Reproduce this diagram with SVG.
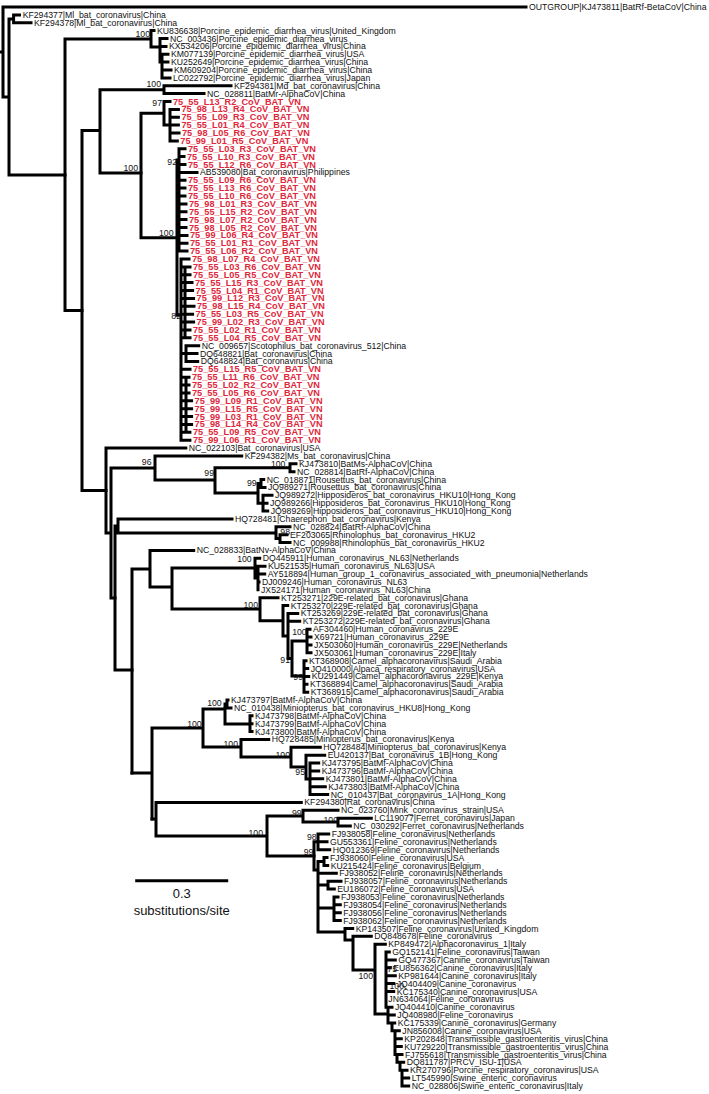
<svg xmlns="http://www.w3.org/2000/svg" width="709" height="1094" viewBox="0 0 709 1094">
<style>
text{font-family:"Liberation Sans",Arial,sans-serif;}
.t{font-size:8.7px;fill:#111;}
.v{font-size:9.2px;font-weight:bold;fill:#e0283c;}
.b{font-size:8.7px;fill:#111;text-anchor:end;}
.s{font-size:13px;fill:#111;text-anchor:middle;}
.e{fill:none;stroke:#000;stroke-width:3;stroke-linecap:square;}
</style>
<rect width="709" height="1094" fill="#fff"/>
<g id="connectors">
<path class="e" d="M0 52H3M3 7V97M3 97H9M3 7H526M9 18.9V175M9 18.9H13.6M13.6 14.9V22.8M13.6 14.9H19.5M13.6 22.8H31M9 175H65"/>
<path class="e" d="M65 39V310.5M65 39H151M65 310.5H82M151 30.6V47M151 30.6H154M151 47H160M160 38.5V62.1M162 54.3V77.9M160 38.5H167M160 46.4H166M162 54.3H168M162 62.1H168M162 70H171M162 77.9H170"/>
<path class="e" d="M82 130.5V490.5M82 130.5H100M82 490.5H106M100 89.7V173M100 89.7H164M164 85.8V93.6M164 85.8H231M164 93.6H204M100 173H141"/>
<path class="e" d="M141 113.3V237.7M141 113.3H164M164 101.5V125M164 101.5H170M164 125H170M170 109.4V140.9M170 109.4H178.4M170 117.3H178.4M170 125.1H178.4M170 133H179M170 140.9H177.3M141 237.7H177"/>
<path class="e" d="M177 160V315M177 160H179M179 148.8V251.1M179 148.8H185M179 156.6H184M179 164.5H185M179 172.4H197M179 180.3H185M179 188.1H185M179 196H185M179 203.9H186M179 211.8H186M179 219.6H186M179 227.5H186M179 235.4H187M179 243.3H187M179 251.1H187"/>
<path class="e" d="M177 315H181M181 259V440.2M181 259H189M181 266.9H190M181 274.8H190M181 282.6H192M181 290.5H192.6M181 298.4H193.6M181 306.3H194M181 314.2H192.6M181 322H193.6M181 329.9H190M181 337.8H190M181 353.5H186M186 345.7V361.4M186 345.7H198.7M186 353.5H197M186 361.4H197.7M181 369.3H190M181 377.2H189M181 385H189M181 392.9H189M181 400.8H191.6M181 408.7H191.6M181 416.5H191.6M181 424.4H191.6M181 432.3H189.9M181 440.2H189.9M185 266.9V337.8M186 380V432"/>
<path class="e" d="M106 448V533M106 448H185.8M106 533H111M111 468V598M111 468H155M111 598H115M155 455.9V480M155 455.9H241.7M155 480H215M215 467.7V493M215 467.7H290M290 463.8V471.7M290 463.8H296M290 471.7H294M215 493H258M258 483.5V503.2M258 483.5H261M261 479.5V487.4M261 479.5H263.7M261 487.4H265M258 503.2H263M263 495.3V511M263 495.3H272M263 503.2H267M263 511H267.7"/>
<path class="e" d="M115 526V670M115 526H118M118 518.9V533M118 518.9H232M118 533H276M276 526.8V538.6M276 526.8H290M276 538.6H280M280 534.7V542.5M280 534.7H287M280 542.5H290M115 670H132"/>
<path class="e" d="M132 569V773M132 569H150M150 550.4V587M150 550.4H193.7M150 587H172M172 568V609M172 568H255M255 558.3V578M255 558.3H259.7M255 578H258M258 566.2V589.8M258 566.2H265M258 574H264.7M258 581.9H259M172 609H260M260 597.7V620.8M260 597.7H278M260 620.8H283M283 605.6V636M283 605.6H287.7M283 636H288M288 613.4V658.5M288 613.4H297.7M288 621.3H299.7M288 658.5H292M292 641V676M292 641H307M307 629.2V652.8M307 629.2H310M307 637.1H311M307 644.9H311M307 652.8H311M292 676H304M304 660.7V692.2M304 660.7H306M304 668.6H307.7M304 676.4H308.7M304 684.3H307M304 692.2H307.7"/>
<path class="e" d="M132 773H152M152 728V819M152 728H203M203 709V747M203 709H225M225 704V724M225 704H227M227 700.1V707.9M227 700.1H228M227 707.9H231M225 724H250M250 715.8V731.6M250 715.8H252M250 723.7H252M250 731.6H252M203 747H241M241 739.4V757M241 739.4H268.7M241 757H291M291 747.3V767M291 747.3H320.3M291 767H306M306 755.2V779M306 755.2H324.7M306 779H310M310 763.1V794.6M310 763.1H318.7M310 770.9H318.7M310 778.8H322.7M310 786.7H325.3M310 794.6H327.7"/>
<path class="e" d="M152 819H156M156 802.4V836M156 802.4H301.3M156 836H267M267 816V856M267 816H303M303 810.3V822M303 810.3H338M303 822H338M338 818.2V826.1M338 818.2H371.3M338 826.1H350.3M267 856H314"/>
<path class="e" d="M314 841.8V870M314 841.8H318M318 834V849.7M318 834H328.7M318 841.8H327M318 849.7H329.7M314 870H318M318 861.5V932M318 861.5H324M324 857.6V865.5M324 857.6H327M324 865.5H327.7M318 873.3H336.3M318 885H328M328 881.2V889.1M328 881.2H341M328 889.1H334.3M318 908H334M334 897V920.6M334 897H338M334 904.8H340.3M334 912.7H340.3M334 920.6H340.3M318 932H345M345 928.5V940M345 928.5H352.7M345 940H353M353 936.3V970M353 936.3H371.3M353 970H375M375 944.2V1014M375 944.2H385.3M375 1014H386"/>
<path class="e" d="M386 952.1V1007.2M386 952.1H389.3M386 960H395.3M386 967.8H390.3M386 975.7H395.3M386 983.6H393.7M386 991.5H393.7M386 999.3H386M386 1007.2H392M386 1007.2H388M388 1007.2V1023M388 1015.1H394.3M388 1023H394.7M388 1023H392M392 1023V1030.8M392 1030.8H399.3M392 1030.8H395M395 1030.8V1054.5M395 1038.7H401.3M395 1046.6H401.3M395 1054.5H402M395 1054.5H397M397 1054.5V1062.3M397 1062.3H403.7M397 1062.3H400M400 1062.3V1070.2M400 1070.2H407M400 1070.2H402M402 1070.2V1086M402 1078.1H408.7M402 1086H408.7"/>
<path class="e" d="M136.7 880.7H226.7"/>
</g>
<g id="scale"><text class="s" x="181.7" y="897.5">0.3</text><text class="s" x="181.7" y="914.5">substitutions/site</text></g>
<g id="bootstrap">
<text class="b" x="150" y="37">100</text>
<text class="b" x="161" y="86.5">100</text>
<text class="b" x="162" y="106">97</text>
<text class="b" x="177" y="165">92</text>
<text class="b" x="138" y="170.5">100</text>
<text class="b" x="173.5" y="236">100</text>
<text class="b" x="181" y="319">82</text>
<text class="b" x="151.5" y="465">96</text>
<text class="b" x="285.4" y="466.5">100</text>
<text class="b" x="214" y="475.5">99</text>
<text class="b" x="256.7" y="486">99</text>
<text class="b" x="290" y="535">98</text>
<text class="b" x="251.7" y="562">100</text>
<text class="b" x="258" y="607.5">100</text>
<text class="b" x="306.7" y="635">100</text>
<text class="b" x="290" y="663">91</text>
<text class="b" x="303" y="680">99</text>
<text class="b" x="221.7" y="706">100</text>
<text class="b" x="201.7" y="727">100</text>
<text class="b" x="238" y="746.5">100</text>
<text class="b" x="290" y="757.5">100</text>
<text class="b" x="305" y="775">95</text>
<text class="b" x="301.7" y="815.5">99</text>
<text class="b" x="338" y="822.5">100</text>
<text class="b" x="263" y="835.5">100</text>
<text class="b" x="316.7" y="839.5">98</text>
<text class="b" x="313.3" y="855">99</text>
<text class="b" x="373" y="979">100</text>
<text class="b" x="397" y="972">75</text>
<text class="b" x="404" y="989">100</text>
</g>
<g id="n1"><text class="t" x="529" y="10">OUTGROUP|KJ473811|BatRf-BetaCoV|China</text></g>
<g id="n2"><text class="t" x="22.7" y="17.9">KF294377|Ml_bat_coronavirus|China</text></g>
<g id="n3"><text class="t" x="34" y="25.8">KF294378|Ml_bat_coronavirus|China</text></g>
<g id="n4"><text class="t" x="157" y="33.6">KU836638|Porcine_epidemic_diarrhea_virus|United_Kingdom</text></g>
<g id="n5"><text class="t" x="170" y="41.5">NC_003436|Porcine_epidemic_diarrhea_virus</text></g>
<g id="n6"><text class="t" x="169" y="49.4">KX534206|Porcine_epidemic_diarrhea_virus|China</text></g>
<g id="n7"><text class="t" x="171" y="57.3">KM077139|Porcine_epidemic_diarrhea_virus|USA</text></g>
<g id="n8"><text class="t" x="171" y="65.1">KU252649|Porcine_epidemic_diarrhea_virus|China</text></g>
<g id="n9"><text class="t" x="174" y="73">KM609204|Porcine_epidemic_diarrhea_virus|China</text></g>
<g id="n10"><text class="t" x="173" y="80.9">LC022792|Porcine_epidemic_diarrhea_virus|Japan</text></g>
<g id="n11"><text class="t" x="234" y="88.8">KF294381|Md_bat_coronavirus|China</text></g>
<g id="n12"><text class="t" x="207" y="96.6">NC_028811|BatMr-AlphaCoV|China</text></g>
<g id="n13"><text class="v" x="173" y="104.5">75_55_L13_R2_CoV_BAT_VN</text></g>
<g id="n14"><text class="v" x="181.4" y="112.4">75_98_L13_R4_CoV_BAT_VN</text></g>
<g id="n15"><text class="v" x="181.4" y="120.3">75_55_L09_R3_CoV_BAT_VN</text></g>
<g id="n16"><text class="v" x="181.4" y="128.1">75_55_L01_R4_CoV_BAT_VN</text></g>
<g id="n17"><text class="v" x="182" y="136">75_98_L05_R6_CoV_BAT_VN</text></g>
<g id="n18"><text class="v" x="180.3" y="143.9">75_99_L01_R5_CoV_BAT_VN</text></g>
<g id="n19"><text class="v" x="188" y="151.8">75_55_L03_R3_CoV_BAT_VN</text></g>
<g id="n20"><text class="v" x="187" y="159.6">75_55_L10_R3_CoV_BAT_VN</text></g>
<g id="n21"><text class="v" x="188" y="167.5">75_55_L12_R6_CoV_BAT_VN</text></g>
<g id="n22"><text class="t" x="200" y="175.4">AB539080|Bat_coronavirus|Philippines</text></g>
<g id="n23"><text class="v" x="188" y="183.3">75_55_L09_R6_CoV_BAT_VN</text></g>
<g id="n24"><text class="v" x="188" y="191.1">75_55_L13_R6_CoV_BAT_VN</text></g>
<g id="n25"><text class="v" x="188" y="199">75_55_L10_R6_CoV_BAT_VN</text></g>
<g id="n26"><text class="v" x="189" y="206.9">75_98_L01_R3_CoV_BAT_VN</text></g>
<g id="n27"><text class="v" x="189" y="214.8">75_55_L15_R2_CoV_BAT_VN</text></g>
<g id="n28"><text class="v" x="189" y="222.6">75_98_L07_R2_CoV_BAT_VN</text></g>
<g id="n29"><text class="v" x="189" y="230.5">75_98_L05_R2_CoV_BAT_VN</text></g>
<g id="n30"><text class="v" x="190" y="238.4">75_99_L06_R4_CoV_BAT_VN</text></g>
<g id="n31"><text class="v" x="190" y="246.3">75_55_L01_R1_CoV_BAT_VN</text></g>
<g id="n32"><text class="v" x="190" y="254.1">75_55_L06_R2_CoV_BAT_VN</text></g>
<g id="n33"><text class="v" x="192" y="262">75_98_L07_R4_CoV_BAT_VN</text></g>
<g id="n34"><text class="v" x="193" y="269.9">75_55_L03_R6_CoV_BAT_VN</text></g>
<g id="n35"><text class="v" x="193" y="277.8">75_55_L05_R5_CoV_BAT_VN</text></g>
<g id="n36"><text class="v" x="195" y="285.6">75_55_L15_R3_CoV_BAT_VN</text></g>
<g id="n37"><text class="v" x="195.6" y="293.5">75_55_L04_R1_CoV_BAT_VN</text></g>
<g id="n38"><text class="v" x="196.6" y="301.4">75_99_L12_R3_CoV_BAT_VN</text></g>
<g id="n39"><text class="v" x="197" y="309.3">75_98_L15_R4_CoV_BAT_VN</text></g>
<g id="n40"><text class="v" x="195.6" y="317.2">75_55_L03_R5_CoV_BAT_VN</text></g>
<g id="n41"><text class="v" x="196.6" y="325">75_99_L02_R3_CoV_BAT_VN</text></g>
<g id="n42"><text class="v" x="193" y="332.9">75_55_L02_R1_CoV_BAT_VN</text></g>
<g id="n43"><text class="v" x="193" y="340.8">75_55_L04_R5_CoV_BAT_VN</text></g>
<g id="n44"><text class="t" x="201.7" y="348.7">NC_009657|Scotophilus_bat_coronavirus_512|China</text></g>
<g id="n45"><text class="t" x="200" y="356.5">DQ648821|Bat_coronavirus|China</text></g>
<g id="n46"><text class="t" x="200.7" y="364.4">DQ648824|Bat_coronavirus|China</text></g>
<g id="n47"><text class="v" x="193" y="372.3">75_55_L15_R5_CoV_BAT_VN</text></g>
<g id="n48"><text class="v" x="192" y="380.2">75_55_L11_R6_CoV_BAT_VN</text></g>
<g id="n49"><text class="v" x="192" y="388">75_55_L02_R2_CoV_BAT_VN</text></g>
<g id="n50"><text class="v" x="192" y="395.9">75_55_L05_R6_CoV_BAT_VN</text></g>
<g id="n51"><text class="v" x="194.6" y="403.8">75_99_L09_R1_CoV_BAT_VN</text></g>
<g id="n52"><text class="v" x="194.6" y="411.7">75_99_L15_R5_CoV_BAT_VN</text></g>
<g id="n53"><text class="v" x="194.6" y="419.5">75_99_L03_R1_CoV_BAT_VN</text></g>
<g id="n54"><text class="v" x="194.6" y="427.4">75_98_L14_R4_CoV_BAT_VN</text></g>
<g id="n55"><text class="v" x="192.9" y="435.3">75_55_L09_R5_CoV_BAT_VN</text></g>
<g id="n56"><text class="v" x="192.9" y="443.2">75_99_L06_R1_CoV_BAT_VN</text></g>
<g id="n57"><text class="t" x="188.8" y="451">NC_022103|Bat_coronavirus|USA</text></g>
<g id="n58"><text class="t" x="244.7" y="458.9">KF294382|Ms_bat_coronavirus|China</text></g>
<g id="n59"><text class="t" x="299" y="466.8">KJ473810|BatMs-AlphaCoV|China</text></g>
<g id="n60"><text class="t" x="297" y="474.7">NC_028814|BatRf-AlphaCoV|China</text></g>
<g id="n61"><text class="t" x="266.7" y="482.5">NC_018871|Rousettus_bat_coronavirus|China</text></g>
<g id="n62"><text class="t" x="268" y="490.4">JQ989271|Rousettus_bat_coronavirus|China</text></g>
<g id="n63"><text class="t" x="275" y="498.3">JQ989272|Hipposideros_bat_coronavirus_HKU10|Hong_Kong</text></g>
<g id="n64"><text class="t" x="270" y="506.2">JQ989266|Hipposideros_bat_coronavirus_HKU10|Hong_Kong</text></g>
<g id="n65"><text class="t" x="270.7" y="514">JQ989269|Hipposideros_bat_coronavirus_HKU10|Hong_Kong</text></g>
<g id="n66"><text class="t" x="235" y="521.9">HQ728481|Chaerephon_bat_coronavirus|Kenya</text></g>
<g id="n67"><text class="t" x="293" y="529.8">NC_028824|BatRf-AlphaCoV|China</text></g>
<g id="n68"><text class="t" x="290" y="537.7">EF203065|Rhinolophus_bat_coronavirus_HKU2</text></g>
<g id="n69"><text class="t" x="293" y="545.5">NC_009988|Rhinolophus_bat_coronavirus_HKU2</text></g>
<g id="n70"><text class="t" x="196.7" y="553.4">NC_028833|BatNv-AlphaCoV|China</text></g>
<g id="n71"><text class="t" x="262.7" y="561.3">DQ445911|Human_coronavirus_NL63|Netherlands</text></g>
<g id="n72"><text class="t" x="268" y="569.2">KU521535|Human_coronavirus_NL63|USA</text></g>
<g id="n73"><text class="t" x="267.7" y="577">AY518894|Human_group_1_coronavirus_associated_with_pneumonia|Netherlands</text></g>
<g id="n74"><text class="t" x="262" y="584.9">DJ009246|Human_coronavirus_NL63</text></g>
<g id="n75"><text class="t" x="261" y="592.8">JX524171|Human_coronavirus_NL63|China</text></g>
<g id="n76"><text class="t" x="281" y="600.7">KT253271|229E-related_bat_coronavirus|Ghana</text></g>
<g id="n77"><text class="t" x="290.7" y="608.6">KT253270|229E-related_bat_coronavirus|Ghana</text></g>
<g id="n78"><text class="t" x="300.7" y="616.4">KT253269|229E-related_bat_coronavirus|Ghana</text></g>
<g id="n79"><text class="t" x="302.7" y="624.3">KT253272|229E-related_bat_coronavirus|Ghana</text></g>
<g id="n80"><text class="t" x="313" y="632.2">AF304460|Human_coronavirus_229E</text></g>
<g id="n81"><text class="t" x="314" y="640.1">X69721|Human_coronavirus_229E</text></g>
<g id="n82"><text class="t" x="314" y="647.9">JX503060|Human_coronavirus_229E|Netherlands</text></g>
<g id="n83"><text class="t" x="314" y="655.8">JX503061|Human_coronavirus_229E|Italy</text></g>
<g id="n84"><text class="t" x="309" y="663.7">KT368908|Camel_alphacoronavirus|Saudi_Arabia</text></g>
<g id="n85"><text class="t" x="310.7" y="671.6">JQ410000|Alpaca_respiratory_coronavirus|USA</text></g>
<g id="n86"><text class="t" x="311.7" y="679.4">KU291449|Camel_alphacoronavirus_229E|Kenya</text></g>
<g id="n87"><text class="t" x="310" y="687.3">KT368894|Camel_alphacoronavirus|Saudi_Arabia</text></g>
<g id="n88"><text class="t" x="310.7" y="695.2">KT368915|Camel_alphacoronavirus|Saudi_Arabia</text></g>
<g id="n89"><text class="t" x="231" y="703.1">KJ473797|BatMf-AlphaCoV|China</text></g>
<g id="n90"><text class="t" x="234" y="710.9">NC_010438|Miniopterus_bat_coronavirus_HKU8|Hong_Kong</text></g>
<g id="n91"><text class="t" x="255" y="718.8">KJ473798|BatMf-AlphaCoV|China</text></g>
<g id="n92"><text class="t" x="255" y="726.7">KJ473799|BatMf-AlphaCoV|China</text></g>
<g id="n93"><text class="t" x="255" y="734.6">KJ473800|BatMf-AlphaCoV|China</text></g>
<g id="n94"><text class="t" x="271.7" y="742.4">HQ728485|Miniopterus_bat_coronavirus|Kenya</text></g>
<g id="n95"><text class="t" x="323.3" y="750.3">HQ728484|Miniopterus_bat_coronavirus|Kenya</text></g>
<g id="n96"><text class="t" x="327.7" y="758.2">EU420137|Bat_coronavirus_1B|Hong_Kong</text></g>
<g id="n97"><text class="t" x="321.7" y="766.1">KJ473795|BatMf-AlphaCoV|China</text></g>
<g id="n98"><text class="t" x="321.7" y="773.9">KJ473796|BatMf-AlphaCoV|China</text></g>
<g id="n99"><text class="t" x="325.7" y="781.8">KJ473801|BatMf-AlphaCoV|China</text></g>
<g id="n100"><text class="t" x="328.3" y="789.7">KJ473803|BatMf-AlphaCoV|China</text></g>
<g id="n101"><text class="t" x="330.7" y="797.6">NC_010437|Bat_coronavirus_1A|Hong_Kong</text></g>
<g id="n102"><text class="t" x="304.3" y="805.4">KF294380|Rat_coronavirus|China</text></g>
<g id="n103"><text class="t" x="341" y="813.3">NC_023760|Mink_coronavirus_strain|USA</text></g>
<g id="n104"><text class="t" x="374.3" y="821.2">LC119077|Ferret_coronavirus|Japan</text></g>
<g id="n105"><text class="t" x="353.3" y="829.1">NC_030292|Ferret_coronavirus|Netherlands</text></g>
<g id="n106"><text class="t" x="331.7" y="837">FJ938058|Feline_coronavirus|Netherlands</text></g>
<g id="n107"><text class="t" x="330" y="844.8">GU553361|Feline_coronavirus|Netherlands</text></g>
<g id="n108"><text class="t" x="332.7" y="852.7">HQ012369|Feline_coronavirus|Netherlands</text></g>
<g id="n109"><text class="t" x="330" y="860.6">FJ938060|Feline_coronavirus|USA</text></g>
<g id="n110"><text class="t" x="330.7" y="868.5">KU215424|Feline_coronavirus|Belgium</text></g>
<g id="n111"><text class="t" x="339.3" y="876.3">FJ938052|Feline_coronavirus|Netherlands</text></g>
<g id="n112"><text class="t" x="344" y="884.2">FJ938057|Feline_coronavirus|Netherlands</text></g>
<g id="n113"><text class="t" x="337.3" y="892.1">EU186072|Feline_coronavirus|USA</text></g>
<g id="n114"><text class="t" x="341" y="900">FJ938053|Feline_coronavirus|Netherlands</text></g>
<g id="n115"><text class="t" x="343.3" y="907.8">FJ938054|Feline_coronavirus|Netherlands</text></g>
<g id="n116"><text class="t" x="343.3" y="915.7">FJ938056|Feline_coronavirus|Netherlands</text></g>
<g id="n117"><text class="t" x="343.3" y="923.6">FJ938062|Feline_coronavirus|Netherlands</text></g>
<g id="n118"><text class="t" x="355.7" y="931.5">KP143507|Feline_coronavirus|United_Kingdom</text></g>
<g id="n119"><text class="t" x="374.3" y="939.3">DQ848678|Feline_coronavirus</text></g>
<g id="n120"><text class="t" x="388.3" y="947.2">KP849472|Alphacoronavirus_1|Italy</text></g>
<g id="n121"><text class="t" x="392.3" y="955.1">GQ152141|Feline_coronavirus|Taiwan</text></g>
<g id="n122"><text class="t" x="398.3" y="963">GQ477367|Canine_coronavirus|Taiwan</text></g>
<g id="n123"><text class="t" x="393.3" y="970.8">EU856362|Canine_coronavirus|Italy</text></g>
<g id="n124"><text class="t" x="398.3" y="978.7">KP981644|Canine_coronavirus|Italy</text></g>
<g id="n125"><text class="t" x="396.7" y="986.6">JQ404409|Canine_coronavirus</text></g>
<g id="n126"><text class="t" x="396.7" y="994.5">KC175340|Canine_coronavirus|USA</text></g>
<g id="n127"><text class="t" x="388.3" y="1002.3">JN634064|Feline_coronavirus</text></g>
<g id="n128"><text class="t" x="395" y="1010.2">JQ404410|Canine_coronavirus</text></g>
<g id="n129"><text class="t" x="397.3" y="1018.1">JQ408980|Feline_coronavirus</text></g>
<g id="n130"><text class="t" x="397.7" y="1026">KC175339|Canine_coronavirus|Germany</text></g>
<g id="n131"><text class="t" x="402.3" y="1033.8">JN856008|Canine_coronavirus|USA</text></g>
<g id="n132"><text class="t" x="404.3" y="1041.7">KP202848|Transmissible_gastroenteritis_virus|China</text></g>
<g id="n133"><text class="t" x="404.3" y="1049.6">KU729220|Transmissible_gastroenteritis_virus|China</text></g>
<g id="n134"><text class="t" x="405" y="1057.5">FJ755618|Transmissible_gastroenteritis_virus|China</text></g>
<g id="n135"><text class="t" x="406.7" y="1065.3">DQ811787|PRCV_ISU-1|USA</text></g>
<g id="n136"><text class="t" x="410" y="1073.2">KR270796|Porcine_respiratory_coronavirus|USA</text></g>
<g id="n137"><text class="t" x="411.7" y="1081.1">LT545990|Swine_enteric_coronavirus</text></g>
<g id="n138"><text class="t" x="411.7" y="1089">NC_028806|Swine_enteric_coronavirus|Italy</text></g>
</svg>
